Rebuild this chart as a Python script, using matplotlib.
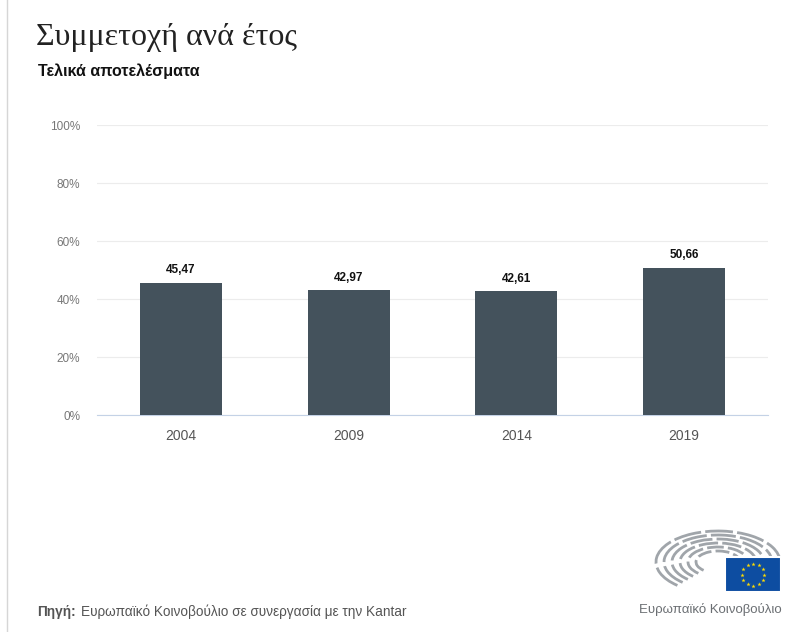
import numpy as np
import matplotlib.pyplot as plt
from matplotlib.patches import Arc, Rectangle
from matplotlib.lines import Line2D

years = ["2004", "2009", "2014", "2019"]
turnout = [45.47, 42.97, 42.61, 50.66]
yticks = [0, 20, 40, 60, 80, 100]

W, H = 796, 632
fig = plt.figure(figsize=(W / 100, H / 100), dpi=100)


def fx(px):
    return px / W


def fy(py):
    return 1 - py / H


# left frame line
fig.add_artist(Line2D([fx(7), fx(7)], [0, 1], color="#d6d6d6", lw=1))

fig.text(fx(36), fy(38), "Συμμετοχή ανά έτος", family="Liberation Serif",
         fontsize=23, color="#222222", va="center")
fig.text(fx(38), fy(71), "Τελικά αποτελέσματα", family="Liberation Sans",
         fontsize=11.5, weight="bold", color="#111111", va="center")

ax = fig.add_axes([fx(97), fy(415), fx(768) - fx(97), fy(125) - fy(415)])
x = np.arange(len(years))
ax.bar(x, turnout, width=0.49, color="#44525c", zorder=3)
for xi, v in zip(x, turnout):
    ax.text(xi, v + 2.3, f"{v:.2f}".replace(".", ","), ha="center", va="bottom",
            fontsize=8.5, weight="bold", family="Liberation Sans", color="#111111")

ax.set_xlim(-0.5, 3.5)
ax.set_ylim(0, 100)
ax.set_yticks(yticks)
ax.set_yticklabels([f"{t}%" for t in yticks])
ax.set_xticks(x)
ax.set_xticklabels(years)
ax.grid(axis="y", color="#ececec", lw=0.8, zorder=0)
for s in ["top", "right", "left"]:
    ax.spines[s].set_visible(False)
ax.spines["bottom"].set_color("#c4d2e6")
ax.tick_params(axis="y", length=0, pad=12, labelsize=8.5, labelcolor="#777777")
ax.tick_params(axis="x", length=0, pad=10, labelsize=10, labelcolor="#555555")
for lab in ax.get_yticklabels() + ax.get_xticklabels():
    lab.set_family("Liberation Sans")

fig.text(fx(37), fy(612), "Πηγή:", family="Liberation Sans", fontsize=9.8,
         weight="bold", color="#555555", va="center")
fig.text(fx(81), fy(612), "Ευρωπαϊκό Κοινοβούλιο σε συνεργασία με την Kantar",
         family="Liberation Sans", fontsize=9.8, color="#555555", va="center")

# logo
lax = fig.add_axes([fx(645), fy(598), fx(790) - fx(645), fy(520) - fy(598)])
lax.set_xlim(645, 790)
lax.set_ylim(598, 520)
lax.axis("off")
cx, cy = 718, 562
for i, r in enumerate([22, 30, 38, 46, 54, 62]):
    lax.add_patch(Arc((cx, cy), 2 * r, 2 * r * 0.5, theta1=150, theta2=360,
                      color="#a0a5aa", lw=2.0, ls=(0, (5 + i, 1.5))))
lax.add_patch(Rectangle((725, 557), 56, 35, facecolor="#0d4da1",
                        edgecolor="white", lw=1.5, zorder=5))
ang = np.linspace(0, 2 * np.pi, 13)[:-1]
lax.scatter(753 + 11 * np.cos(ang), 574.5 + 11 * np.sin(ang), marker="*",
            s=10, color="#ffdd00", zorder=6, lw=0)
fig.text(fx(710), fy(609), "Ευρωπαϊκό Κοινοβούλιο", family="Liberation Sans",
         fontsize=9.5, color="#6b6f73", ha="center", va="center")

fig.savefig("out.png", dpi=100)
